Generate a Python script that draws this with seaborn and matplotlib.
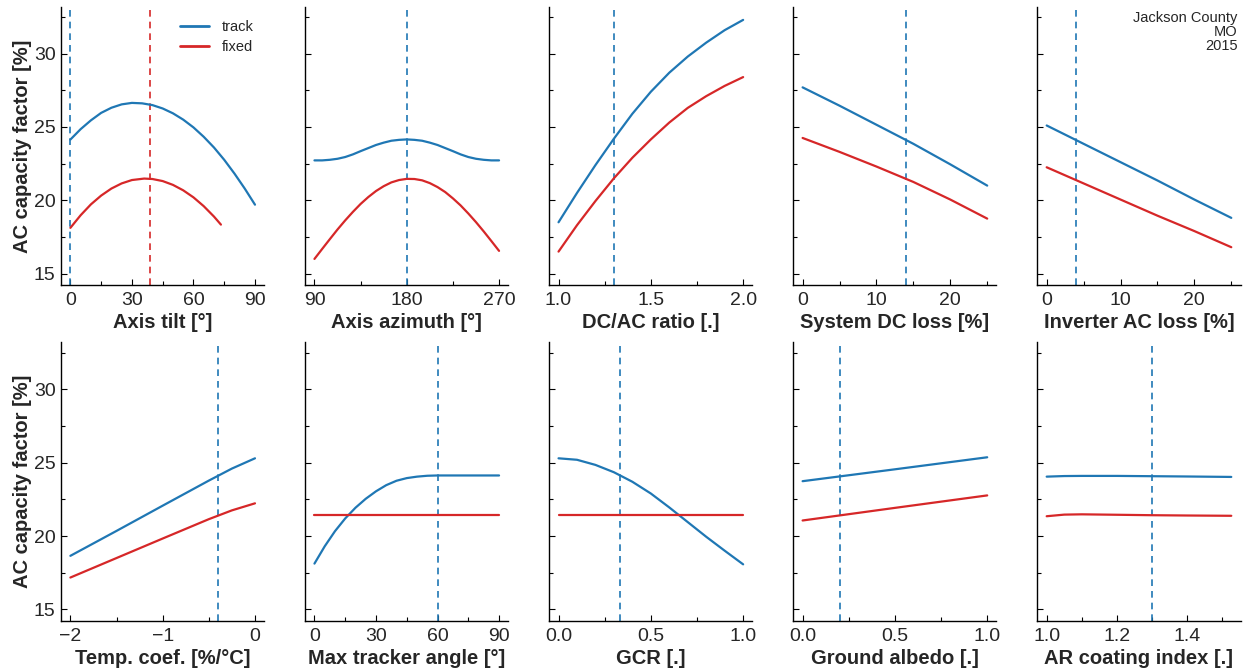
import numpy as np
import pandas as pd
import matplotlib
matplotlib.use("Agg")
import matplotlib.pyplot as plt
import seaborn as sns
from matplotlib.ticker import MultipleLocator

sns.set_theme(style="ticks")
plt.rcParams['font.family'] = ['Liberation Sans', 'DejaVu Sans']

BLUE = "#1f77b4"
RED = "#d62728"

# ---------------- data ----------------
tilt_x_track = [0, 5, 10, 15, 20, 25, 30, 35, 40, 45, 50, 55, 60, 65, 70, 75, 80, 85, 90]
tilt_track = [24.14, 24.85, 25.45, 25.96, 26.31, 26.54, 26.64, 26.61, 26.49, 26.26, 25.93,
              25.5, 24.97, 24.33, 23.6, 22.76, 21.82, 20.8, 19.7]
tilt_x_fixed = [0, 5, 10, 15, 20, 25, 30, 36, 40, 45, 50, 55, 60, 65, 70, 73.4]
tilt_fixed = [18.12, 18.98, 19.72, 20.32, 20.8, 21.15, 21.38, 21.48, 21.45, 21.31, 21.05,
              20.68, 20.2, 19.6, 18.89, 18.34]

azi_x = [90, 97.5, 105, 112.5, 120, 127.5, 135, 142.5, 150, 157.5, 165, 172.5, 180,
         187.5, 195, 202.5, 210, 217.5, 225, 232.5, 240, 247.5, 255, 262.5, 270]
azi_track = [22.72, 22.72, 22.76, 22.83, 22.95, 23.13, 23.35, 23.56, 23.77, 23.93, 24.06,
             24.12, 24.15, 24.12, 24.06, 23.93, 23.77, 23.56, 23.35, 23.13, 22.95, 22.83,
             22.76, 22.72, 22.72]
azi_fixed = [16.0, 16.68, 17.35, 18.01, 18.63, 19.21, 19.75, 20.22, 20.63, 20.96, 21.22,
             21.38, 21.46, 21.45, 21.36, 21.17, 20.9, 20.56, 20.13, 19.65, 19.1, 18.51,
             17.88, 17.22, 16.55]

dcac_x = [1.0, 1.1, 1.2, 1.3, 1.4, 1.5, 1.6, 1.7, 1.8, 1.9, 2.0]
dcac_track = [18.5, 20.5, 22.4, 24.2, 25.9, 27.4, 28.7, 29.8, 30.75, 31.6, 32.3]
dcac_fixed = [16.5, 18.3, 19.95, 21.5, 22.9, 24.15, 25.3, 26.3, 27.1, 27.8, 28.4]

dcloss_x = [0, 5, 10, 15, 20, 25]
dcloss_track = [27.7, 26.45, 25.15, 23.85, 22.45, 21.0]
dcloss_fixed = [24.25, 23.3, 22.3, 21.25, 20.05, 18.75]

acloss_x = [0, 5, 10, 15, 20, 25]
acloss_track = [25.1, 23.85, 22.6, 21.35, 20.05, 18.8]
acloss_fixed = [22.25, 21.15, 20.05, 18.95, 17.9, 16.8]

tc_x = [-2.0, -1.5, -1.0, -0.5, -0.25, 0.0]
tc_track = [18.65, 20.35, 22.07, 23.78, 24.6, 25.3]
tc_fixed = [17.17, 18.5, 19.83, 21.15, 21.75, 22.23]

mta_x = [0, 5, 10, 15, 20, 25, 30, 35, 40, 45, 50, 55, 60, 70, 80, 90]
mta_track = [18.12, 19.3, 20.33, 21.2, 21.93, 22.54, 23.05, 23.47, 23.77, 23.95, 24.05,
             24.11, 24.13, 24.13, 24.13, 24.13]
mta_fixed = [21.42] * len(mta_x)

gcr_x = [0.0, 0.1, 0.2, 0.3, 0.4, 0.5, 0.6, 0.7, 0.8, 0.9, 1.0]
gcr_track = [25.3, 25.2, 24.85, 24.35, 23.7, 22.9, 21.95, 20.95, 19.95, 19.0, 18.07]
gcr_fixed = [21.42] * len(gcr_x)

alb_x = [0.0, 0.5, 1.0]
alb_track = [23.74, 24.55, 25.37]
alb_fixed = [21.06, 21.92, 22.77]

ar_x = [1.0, 1.05, 1.1, 1.2, 1.3, 1.4, 1.525]
ar_track = [24.05, 24.09, 24.1, 24.1, 24.08, 24.06, 24.03]
ar_fixed = [21.35, 21.46, 21.48, 21.45, 21.42, 21.4, 21.38]

labels = ["Axis tilt [°]", "Axis azimuth [°]", "DC/AC ratio [.]", "System DC loss [%]",
          "Inverter AC loss [%]", "Temp. coef. [%/°C]", "Max tracker angle [°]", "GCR [.]",
          "Ground albedo [.]", "AR coating index [.]"]
defaults_track = [0, 180, 1.3, 14, 4, -0.4, 60, 0.333, 0.2, 1.3]
defaults_fixed = [39, None, None, None, None, None, None, None, None, None]
xticks = [[0, 30, 60, 90], [90, 180, 270], [1.0, 1.5, 2.0], [0, 10, 20], [0, 10, 20],
          [-2, -1, 0], [0, 30, 60, 90], [0.0, 0.5, 1.0], [0.0, 0.5, 1.0], [1.0, 1.2, 1.4]]
xticklabels = [["0", "30", "60", "90"], ["90", "180", "270"], ["1.0", "1.5", "2.0"],
               ["0", "10", "20"], ["0", "10", "20"], ["\u22122", "\u22121", "0"],
               ["0", "30", "60", "90"], ["0.0", "0.5", "1.0"], ["0.0", "0.5", "1.0"],
               ["1.0", "1.2", "1.4"]]
minor_steps = [15, 45, 0.25, 5, 5, 0.5, 15, 0.25, 0.25, 0.1]
location_text = "Jackson County\nMO\n2015"

series = [
    (tilt_x_track, tilt_track, tilt_x_fixed, tilt_fixed),
    (azi_x, azi_track, azi_x, azi_fixed),
    (dcac_x, dcac_track, dcac_x, dcac_fixed),
    (dcloss_x, dcloss_track, dcloss_x, dcloss_fixed),
    (acloss_x, acloss_track, acloss_x, acloss_fixed),
    (tc_x, tc_track, tc_x, tc_fixed),
    (mta_x, mta_track, mta_x, mta_fixed),
    (gcr_x, gcr_track, gcr_x, gcr_fixed),
    (alb_x, alb_track, alb_x, alb_fixed),
    (ar_x, ar_track, ar_x, ar_fixed),
]

# ---------------- figure ----------------
fig, axes = plt.subplots(2, 5, figsize=(12.48, 6.70), dpi=100, sharey=True)
fig.subplots_adjust(left=0.049, right=0.994, top=0.99, bottom=0.073, wspace=0.202, hspace=0.205)

for i, ax in enumerate(axes.flat):
    xt, yt, xf, yf = series[i]
    df = pd.concat([
        pd.DataFrame({"x": xt, "y": yt, "mode": "track"}),
        pd.DataFrame({"x": xf, "y": yf, "mode": "fixed"}),
    ], ignore_index=True)
    sns.lineplot(data=df, x="x", y="y", hue="mode", palette={"track": BLUE, "fixed": RED},
                 hue_order=["track", "fixed"], estimator=None, sort=True, linewidth=1.6,
                 ax=ax, legend=(i == 0))
    for ln in ax.get_lines():
        ln.set_solid_joinstyle("round")
        ln.set_solid_capstyle("round")
    ax.axvline(defaults_track[i], color=BLUE, ls=(0, (4, 3)), lw=1.2, zorder=1)
    if defaults_fixed[i] is not None:
        ax.axvline(defaults_fixed[i], color=RED, ls=(0, (4, 3)), lw=1.2, zorder=1)

    ax.set_ylim(14.2, 33.2)
    ax.yaxis.set_major_locator(MultipleLocator(5))
    ax.yaxis.set_minor_locator(MultipleLocator(2.5))
    ax.set_xticks(xticks[i])
    ax.set_xticklabels(xticklabels[i])
    ax.xaxis.set_minor_locator(MultipleLocator(minor_steps[i]))
    ax.tick_params(which="both", direction="in", labelsize=14, color="black", width=0.8)
    ax.tick_params(which="major", length=4)
    ax.tick_params(which="minor", length=3)
    ax.tick_params(axis="x", pad=5)
    ax.tick_params(axis="y", pad=4)
    sns.despine(ax=ax)
    for s in ("left", "bottom"):
        ax.spines[s].set_color("black")
        ax.spines[s].set_linewidth(1.0)
    ax.set_xlabel(labels[i], fontsize=14.5, fontweight="bold", labelpad=3)
    if i % 5 == 0:
        ax.set_ylabel("AC capacity factor [%]", fontsize=14.5, fontweight="bold", labelpad=1)
    else:
        ax.set_ylabel("")
        ax.tick_params(axis="y", labelleft=False)

leg = axes[0, 0].legend(frameon=False, loc="upper left", bbox_to_anchor=(0.52, 1.0),
                        fontsize=10.5, handlelength=2.0, handletextpad=0.9, labelspacing=0.45)
for h in leg.get_lines():
    h.set_linewidth(2.0)
leg.set_title(None)

axes[0, 4].text(0.985, 0.985, location_text, transform=axes[0, 4].transAxes,
                ha="right", va="top", fontsize=10.5, linespacing=1.0)

fig.savefig("out.png", dpi=100)
